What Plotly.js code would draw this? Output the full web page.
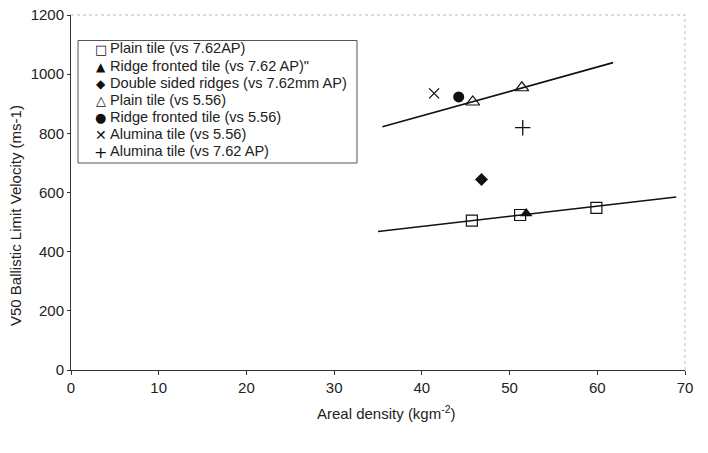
<!DOCTYPE html>
<html><head><meta charset="utf-8">
<script src="https://cdn.plot.ly/plotly-3.0.1.min.js"></script>
<style>body{margin:0;background:#fff}#chart{width:708px;height:453px}</style>
</head><body><div id="chart"></div>
<script>
// Data
const plain762X = [45.7, 51.2, 59.9];
const plain762Y = [505, 524, 548];
const ridge762X = [51.9];
const ridge762Y = [529];
const doubleX = [46.8];
const doubleY = [644];
const plain556X = [45.8, 51.4];
const plain556Y = [906, 954];
const ridge556X = [44.2];
const ridge556Y = [923];
const alum556X = [41.4];
const alum556Y = [935];
const alum762X = [51.5];
const alum762Y = [819];
// Trend lines (endpoints)
const trendUpperX = [35.5, 61.8];
const trendUpperY = [822, 1039];
const trendLowerX = [35, 69];
const trendLowerY = [468, 585];

const names = ["Plain tile (vs 7.62AP)", "Ridge fronted tile (vs 7.62 AP)\"", "Double sided ridges (vs 7.62mm AP)",
  "Plain tile (vs 5.56)", "Ridge fronted tile (vs 5.56)", "Alumina tile (vs 5.56)", "Alumina tile (vs 7.62 AP)"];
const legendGlyphs = ["\u25A1", "\u25B2", "\u25C6", "\u25B3", "\u25CF", "\u2715", "+"];
const legendGlyphSizes = [13, 12, 12, 13, 13, 14, 16];

const blk = "#111";
function pts(x, y, name, symbol, size, lw) {
  return {x: x, y: y, name: name, type: "scatter", mode: "markers", showlegend: false,
    marker: {symbol: symbol, size: size, color: blk, line: {color: blk, width: lw}}};
}
const traces = [
  {x: trendUpperX, y: trendUpperY, type: "scatter", mode: "lines", line: {color: blk, width: 1.6}, showlegend: false, hoverinfo: "skip"},
  {x: trendLowerX, y: trendLowerY, type: "scatter", mode: "lines", line: {color: blk, width: 1.6}, showlegend: false, hoverinfo: "skip"},
  pts(plain762X, plain762Y, names[0], "square-open", 11, 1.2),
  pts(ridge762X, ridge762Y, names[1], "triangle-up", 11, 0),
  pts(doubleX, doubleY, names[2], "diamond", 10, 0),
  pts(plain556X, plain556Y, names[3], "triangle-up-open", 12, 1.2),
  pts(ridge556X, ridge556Y, names[4], "circle", 11, 0),
  pts(alum556X, alum556Y, names[5], "x-thin-open", 10, 1.3),
  pts(alum762X, alum762Y, names[6], "cross-thin-open", 11, 1.3)
];

const fam = "Liberation Sans, Arial, sans-serif";
// Plot area in pixels: left 71, right 685, top 15, bottom 370
const px = v => (v - 71) / 614;
const py = v => (370 - v) / 355;

const annotations = [
  {text: "Areal density (kgm<sup>-2</sup>)", xref: "paper", yref: "paper", x: px(386), y: py(412),
    xanchor: "center", yanchor: "middle", showarrow: false, font: {family: fam, size: 15, color: "#222"}},
  {text: "V50 Ballistic Limit Velocity (ms-1)", xref: "paper", yref: "paper", x: px(15), y: py(216),
    xanchor: "center", yanchor: "middle", textangle: -90, showarrow: false, font: {family: fam, size: 15, color: "#222"}}
];
const rowY0 = 48.5, rowStep = 17.1;
names.forEach((n, i) => {
  const yc = rowY0 + i * rowStep;
  annotations.push({text: legendGlyphs[i], xref: "paper", yref: "paper", x: px(100.5), y: py(yc + 1),
    xanchor: "center", yanchor: "middle", showarrow: false,
    font: {family: "DejaVu Sans, sans-serif", size: legendGlyphSizes[i], color: blk}});
  annotations.push({text: n, xref: "paper", yref: "paper", x: px(108), y: py(yc),
    xanchor: "left", yanchor: "middle", showarrow: false,
    font: {family: fam, size: 14.6, color: "#222"}});
});

const layout = {
  width: 708, height: 453,
  margin: {l: 71, r: 23, t: 15, b: 83},
  paper_bgcolor: "#fff", plot_bgcolor: "#fff",
  font: {family: fam, size: 14.5, color: "#222"},
  showlegend: false,
  xaxis: {range: [0, 70], dtick: 10, showgrid: false, zeroline: false, showline: true,
    linecolor: "#333", linewidth: 1, ticks: "outside", ticklen: 4, tickcolor: "#333",
    tickfont: {family: fam, size: 15, color: "#222"}},
  yaxis: {range: [0, 1200], dtick: 200, showgrid: false, zeroline: false, showline: true,
    linecolor: "#333", linewidth: 1, ticks: "outside", ticklen: 3, tickcolor: "#333",
    tickfont: {family: fam, size: 15, color: "#222"}},
  annotations: annotations,
  shapes: [
    {type: "line", xref: "paper", yref: "paper", x0: 0, x1: 1, y0: 1, y1: 1, line: {color: "#bbb", width: 1, dash: "dot"}},
    {type: "line", xref: "paper", yref: "paper", x0: 1, x1: 1, y0: 0, y1: 1, line: {color: "#bbb", width: 1, dash: "dot"}},
    {type: "rect", xref: "paper", yref: "paper", x0: px(78), x1: px(357), y0: py(163), y1: py(40.5),
      line: {color: "#555", width: 1}, fillcolor: "rgba(255,255,255,1)", layer: "above"}
  ]
};
Plotly.newPlot("chart", traces, layout, {displayModeBar: false, staticPlot: true});
</script></body></html>
